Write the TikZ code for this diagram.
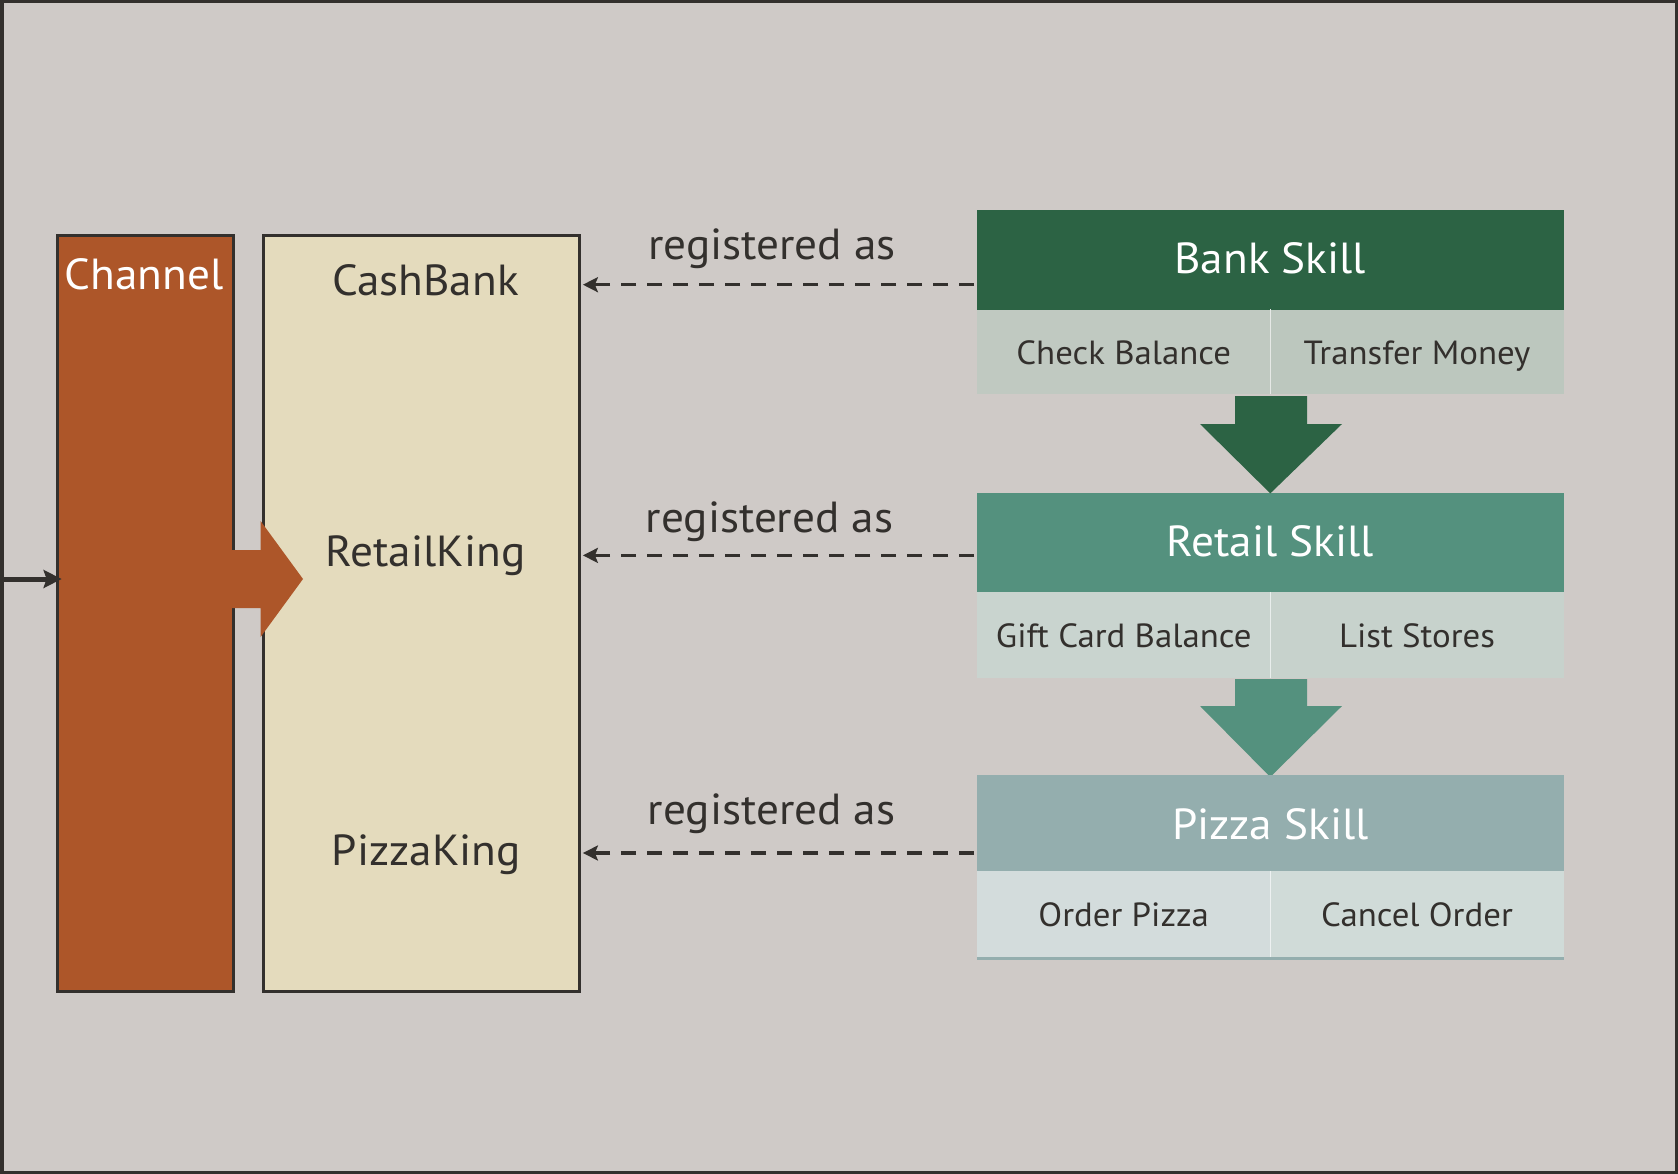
\documentclass[tikz,border=0pt]{standalone}
\usepackage{fontspec}
\setmainfont{PT Sans}[FakeStretch=1.04]
\usetikzlibrary{arrows.meta}
\definecolor{bgc}{HTML}{CFCAC7}
\definecolor{framec}{HTML}{33302D}
\definecolor{chanc}{HTML}{AD5629}
\definecolor{creamc}{HTML}{E4DBBD}
\definecolor{bankh}{HTML}{2C6344}
\definecolor{banksa}{HTML}{C0C9C1}
\definecolor{banksb}{HTML}{BCC7BE}
\definecolor{reth}{HTML}{54917E}
\definecolor{retsa}{HTML}{C9D4CF}
\definecolor{retsb}{HTML}{C7D2CC}
\definecolor{pizh}{HTML}{94AEAE}
\definecolor{pizsa}{HTML}{D3DCDC}
\definecolor{pizsb}{HTML}{D0DBD8}
\tikzset{
  bigtxt/.style={font=\fontsize{43.5}{50}\selectfont, text=framec, anchor=base, inner sep=0},
  headtxt/.style={font=\fontsize{43.5}{50}\selectfont, text=white, anchor=base, inner sep=0},
  subtxt/.style={font=\fontsize{33.5}{40}\selectfont, text=framec, anchor=base, inner sep=0},
  tallbox/.style={draw=framec, line width=3pt, anchor=north west, inner sep=0, minimum height=755.6pt},
  headbox/.style={anchor=north west, inner sep=0, minimum width=586.6pt},
  subbox/.style={anchor=north west, inner sep=0, minimum width=293.3pt},
  regline/.style={draw=framec, line width=3.5pt, dash pattern=on 15pt off 11pt, -{Stealth[length=15pt,width=15pt,inset=3pt]}},
}
\begin{document}
\begin{tikzpicture}[x=1pt,y=-1pt]
\fill[bgc] (0,0) rectangle (1678,1174);
\draw[framec, line width=3.5pt] (1.75,1.75) rectangle (1676.25,1172.25);
\useasboundingbox (0,0) rectangle (1678,1174);

% left boxes
\node[tallbox, fill=chanc, minimum width=176.6pt] (channel) at (55.6,234.4) {};
\node[tallbox, fill=creamc, minimum width=315.7pt] (bots) at (262.2,234.4) {};
\node[headtxt] (chantxt) at (143.9,289.3) {Channel};
\node[bigtxt] (cashbank) at (425.5,295) {CashBank};
\node[bigtxt] (retailking) at (425.5,566.7) {RetailKing};
\node[bigtxt] (pizzaking) at (426.5,865) {PizzaKing};

% orange block arrow
\fill[chanc] (230.5,550) -- (260.6,550) -- (260.6,521) -- (303,579) -- (260.6,637) -- (260.6,608) -- (230.5,608) -- cycle;

% incoming arrow
\coordinate (inleft) at (0,579);
\draw[framec, line width=5pt, -{Stealth[length=18pt,width=18pt,inset=3pt]}] (inleft) -- ([xshift=6pt]inleft -| channel.west);

% skills
\node[headbox, fill=bankh, minimum height=99.5pt] (bank) at (977,209.8) {};
\node[subbox, fill=banksa, minimum height=84.5pt] (bank1) at (977,309.3) {};
\node[subbox, fill=banksb, minimum height=84.5pt] (bank2) at (1270.3,309.3) {};
\draw[white!60!banksa, line width=1pt] (bank1.north east) -- (bank1.south east);

\node[headbox, fill=reth, minimum height=99.5pt] (retail) at (977,492.3) {};
\node[subbox, fill=retsa, minimum height=85.6pt] (retail1) at (977,591.8) {};
\node[subbox, fill=retsb, minimum height=85.6pt] (retail2) at (1270.3,591.8) {};
\draw[white!60!retsa, line width=1pt] (retail1.north east) -- (retail1.south east);

% green block arrows
\fill[bankh] (1235,396) -- (1307,396) -- (1307,424) -- (1342,424) -- (1270.3,493.4) -- (1200,424) -- (1235,424) -- cycle;
\fill[reth] (1235,679) -- (1307,679) -- (1307,706) -- (1342,706) -- (1270.3,777) -- (1200,706) -- (1235,706) -- cycle;

\node[headbox, fill=pizh, minimum height=96.3pt] (pizza) at (977,774.8) {};
\node[subbox, fill=pizsa, minimum height=86.8pt] (pizza1) at (977,871.1) {};
\node[subbox, fill=pizsb, minimum height=86.8pt] (pizza2) at (1270.3,871.1) {};
\draw[white!60!pizsa, line width=1pt] (pizza1.north east) -- (pizza1.south east);
\draw[pizh, line width=3pt] (pizza1.south west) -- (pizza2.south east);

% skill texts
\node[headtxt] (banktxt) at (1270.3,273) {Bank Skill};
\node[subtxt] (cb) at (1123.7,364) {Check Balance};
\node[subtxt] (tm) at (1417,364) {Transfer Money};
\node[headtxt] (rettxt) at (1270.3,556) {Retail Skill};
\node[subtxt] (gcb) at (1123.7,647) {Gift Card Balance};
\node[subtxt] (ls) at (1417,647) {List Stores};
\node[headtxt] (piztxt) at (1270.3,839.5) {Pizza Skill};
\node[subtxt] (op) at (1123.7,926) {Order Pizza};
\node[subtxt] (co) at (1417,926) {Cancel Order};

% registered as
\coordinate (r1) at (974,284.7);
\coordinate (r2) at (974,555.4);
\coordinate (r3) at (974,853);
\draw[regline] (r1) -- ([xshift=2pt]r1 -| bots.east);
\draw[regline] (r2) -- ([xshift=2pt]r2 -| bots.east);
\draw[regline] (r3) -- ([xshift=2pt]r3 -| bots.east);
\node[bigtxt] (reg1) at (772,260) {registered as};
\node[bigtxt] (reg2) at (769.5,532) {registered as};
\node[bigtxt] (reg3) at (771.6,824) {registered as};
\end{tikzpicture}
\end{document}
